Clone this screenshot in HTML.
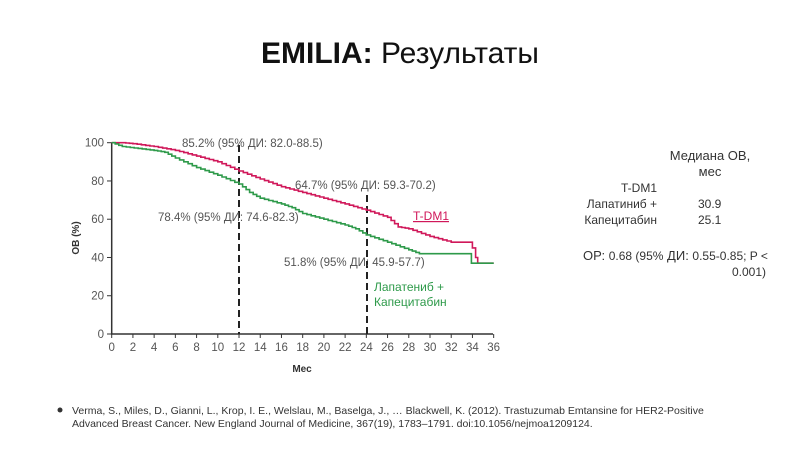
<!DOCTYPE html>
<html><head><meta charset="utf-8"><style>
body{margin:0;width:800px;height:450px;background:#fff;overflow:hidden;font-family:"Liberation Sans",sans-serif;}
</style></head><body>
<svg width="800" height="450" xmlns="http://www.w3.org/2000/svg" font-family="Liberation Sans, sans-serif">
<text x="400" y="63" text-anchor="middle" font-size="30" fill="#111"><tspan font-weight="bold">EMILIA:</tspan> Результаты</text>
<g id="ax" stroke="#333" stroke-width="1.5" fill="none">
<path d="M111.7,142.7 V334 H493"/>
</g>
<g id="ticks"></g>
<g font-size="11.5" fill="#555" id="labels"></g>
<text x="302" y="372" font-size="10" font-weight="bold" text-anchor="middle" fill="#333">Мес</text>
<text transform="translate(79,238) rotate(-90)" font-size="10" font-weight="bold" text-anchor="middle" fill="#333">ОВ (%)</text>
<line x1="239" y1="145" x2="239" y2="334" stroke="#222" stroke-width="2" stroke-dasharray="7,4"/>
<line x1="367" y1="195" x2="367" y2="334" stroke="#222" stroke-width="2" stroke-dasharray="7,4"/>
<path id="red" fill="none" stroke="#d0185a" stroke-width="1.6"/>
<path id="green" fill="none" stroke="#2e9a4a" stroke-width="1.6"/>
<g font-size="11.5" fill="#555">
<text x="182" y="147">85.2% (95% ДИ: 82.0-88.5)</text>
<text x="295" y="189">64.7% (95% ДИ: 59.3-70.2)</text>
<text x="158" y="221">78.4% (95% ДИ: 74.6-82.3)</text>
<text x="284" y="266">51.8% (95% ДИ: 45.9-57.7)</text>
</g>
<text x="413" y="220" font-size="12" fill="#d0185a" text-decoration="underline">T-DM1</text>
<text x="374" y="291" font-size="12" fill="#2e9a4a">Лапатениб +</text>
<text x="374" y="306" font-size="12" fill="#2e9a4a">Капецитабин</text>
<g font-size="12" fill="#333">
<text x="710" y="160" text-anchor="middle" font-size="13">Медиана ОВ,</text>
<text x="710" y="176" text-anchor="middle" font-size="13">мес</text>
<text x="657" y="192" text-anchor="end">T-DM1</text>
<text x="657" y="208" text-anchor="end">Лапатиниб +</text>
<text x="657" y="224" text-anchor="end">Капецитабин</text>
<text x="698" y="208">30.9</text>
<text x="698" y="224">25.1</text>
<text x="583" y="260" font-size="13">ОР: <tspan font-size="12">0.68 (95%</tspan> ДИ: <tspan font-size="12">0.55-0.85; P &lt;</tspan></text>
<text x="766" y="276" text-anchor="end">0.001)</text>
</g>
<circle cx="60" cy="410" r="2.5" fill="#333"/>
<text x="72" y="414" font-size="10.5" fill="#333">Verma, S., Miles, D., Gianni, L., Krop, I. E., Welslau, M., Baselga, J., … Blackwell, K. (2012). Trastuzumab Emtansine for HER2-Positive</text>
<text x="72" y="427" font-size="10.5" fill="#333">Advanced Breast Cancer. New England Journal of Medicine, 367(19), 1783–1791. doi:10.1056/nejmoa1209124.</text>
</svg>
<script>
var X=function(m){return 111.7+m*10.61},Y=function(v){return 334-v*1.913};
var NS="http://www.w3.org/2000/svg",t=document.getElementById('ticks'),l=document.getElementById('labels');
function el(p,n,a,txt){var e=document.createElementNS(NS,n);for(var k in a)e.setAttribute(k,a[k]);if(txt!=null)e.textContent=txt;p.appendChild(e);}
for(var m=0;m<=36;m+=2){el(t,'line',{x1:X(m),x2:X(m),y1:334,y2:338,stroke:'#333'});el(l,'text',{x:X(m),y:351,'text-anchor':'middle'},m);}
for(var v=0;v<=100;v+=20){el(t,'line',{x1:107,x2:111.7,y1:Y(v),y2:Y(v),stroke:'#333'});el(l,'text',{x:104,y:Y(v)+4,'text-anchor':'end'},v);}
function step(pts){var d='M'+X(pts[0][0])+','+Y(pts[0][1]);for(var i=1;i<pts.length;i++){var a=pts[i-1],b=pts[i],n=Math.max(1,Math.round((b[0]-a[0])*2.5));for(var j=1;j<=n;j++){var mm=a[0]+(b[0]-a[0])*j/n,vv=a[1]+(b[1]-a[1])*j/n;d+=' H'+X(mm).toFixed(1)+' V'+Y(vv).toFixed(1);}}return d;}
document.getElementById('red').setAttribute('d',step([[0,100],[1,100],[2,99.5],[4,98],[6,96],[8,93],[10,90],[12,85.2],[14,81],[16,77],[18,74],[20,71],[22,68],[24,64.7],[26,61],[27,56],[28,55],[30,51],[32,48],[33.8,48],[34,45],[34.3,40],[34.5,37],[36,37]]));
document.getElementById('green').setAttribute('d',step([[0,100],[1,98],[4,96],[5,95],[6,92],[8,87],[10,83],[12,78.4],[13,74],[14,71],[16,68],[17,66],[18,63],[20,60],[22,57],[23,55],[24,51.8],[26,48],[28,44],[29,42],[33.8,42],[33.9,37],[36,37]]));
</script>
</body></html>
